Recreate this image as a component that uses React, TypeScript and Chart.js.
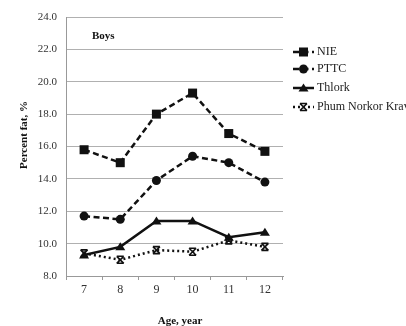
import React, { useEffect, useRef } from "react";
import { Chart, registerables } from "chart.js";

Chart.register(...registerables);

const ages = ["7", "8", "9", "10", "11", "12"];
const nie = [15.8, 15.0, 18.0, 19.3, 16.8, 15.7];
const pttc = [11.7, 11.5, 13.9, 15.4, 15.0, 13.8];
const thlork = [9.3, 9.8, 11.4, 11.4, 10.4, 10.7];
const phum = [9.4, 9.0, 9.6, 9.5, 10.2, 9.8];
const seriesNames = ["NIE", "PTTC", "Thlork", "Phum Norkor Krav"];
const xTitle = "Age, year";
const yTitle = "Percent fat, %";
const panelLabel = "Boys";

const FONT = "'Liberation Serif', 'Times New Roman', serif";
const INK = "#111";

function drawMarker(ctx: CanvasRenderingContext2D, style: string, x: number, y: number) {
  ctx.fillStyle = INK;
  ctx.strokeStyle = INK;
  ctx.setLineDash([]);
  ctx.beginPath();
  if (style === "rect") {
    ctx.fillRect(x - 4.5, y - 4.5, 9, 9);
  } else if (style === "circle") {
    ctx.arc(x, y, 4.5, 0, Math.PI * 2);
    ctx.fill();
  } else if (style === "triangle") {
    ctx.moveTo(x, y - 4.5);
    ctx.lineTo(x + 5, y + 3.5);
    ctx.lineTo(x - 5, y + 3.5);
    ctx.closePath();
    ctx.fill();
  } else {
    ctx.lineWidth = 1.6;
    ctx.moveTo(x - 3.5, y - 3.5);
    ctx.lineTo(x + 3.5, y + 3.5);
    ctx.moveTo(x + 3.5, y - 3.5);
    ctx.lineTo(x - 3.5, y + 3.5);
    ctx.moveTo(x - 3.5, y - 3.5);
    ctx.lineTo(x + 3.5, y - 3.5);
    ctx.moveTo(x - 3.5, y + 3.5);
    ctx.lineTo(x + 3.5, y + 3.5);
    ctx.stroke();
  }
}

const decorPlugin = {
  id: "decor",
  afterDatasetsDraw(chart: any) {
    const ctx = chart.ctx;
    // custom markers on data points
    chart.data.datasets.forEach((ds: any, i: number) => {
      const meta = chart.getDatasetMeta(i);
      meta.data.forEach((pt: any) => {
        ctx.save();
        drawMarker(ctx, ds.markerStyle, pt.x, pt.y);
        ctx.restore();
      });
    });
  },
  afterDraw(chart: any) {
    const ctx = chart.ctx;
    const ys = [52, 69, 88, 107];
    chart.data.datasets.forEach((ds: any, i: number) => {
      const y = ys[i];
      ctx.save();
      ctx.strokeStyle = ds.borderColor;
      ctx.lineWidth = ds.borderWidth;
      ctx.setLineDash(ds.borderDash || []);
      ctx.beginPath();
      ctx.moveTo(293, y);
      ctx.lineTo(314, y);
      ctx.stroke();
      drawMarker(ctx, ds.markerStyle, 303.5, y);
      ctx.restore();
      ctx.save();
      ctx.fillStyle = "#222";
      ctx.font = `12px ${FONT}`;
      ctx.textBaseline = "middle";
      ctx.textAlign = "left";
      ctx.fillText(ds.label, 317, y);
      ctx.restore();
    });
    ctx.save();
    ctx.fillStyle = "#111";
    ctx.font = `bold 11px ${FONT}`;
    ctx.textBaseline = "middle";
    ctx.textAlign = "left";
    ctx.fillText(panelLabel, 92, 36);
    ctx.textAlign = "center";
    ctx.fillText(xTitle, 180, 321);
    ctx.translate(24, 135);
    ctx.rotate(-Math.PI / 2);
    ctx.fillText(yTitle, 0, 0);
    ctx.restore();
  },
};

export default function App() {
  const ref = useRef<HTMLCanvasElement>(null);
  useEffect(() => {
    if (!ref.current) return;
    const chart = new Chart(ref.current, {
      type: "line",
      data: {
        labels: ages,
        datasets: [
          {
            label: seriesNames[0],
            data: nie,
            borderColor: INK,
            borderWidth: 2.5,
            borderDash: [6, 3.5],
            markerStyle: "rect",
            pointRadius: 0,
          },
          {
            label: seriesNames[1],
            data: pttc,
            borderColor: INK,
            borderWidth: 2.5,
            borderDash: [6, 3.5],
            markerStyle: "circle",
            pointRadius: 0,
          },
          {
            label: seriesNames[2],
            data: thlork,
            borderColor: INK,
            borderWidth: 2.5,
            borderDash: [],
            markerStyle: "triangle",
            pointRadius: 0,
          },
          {
            label: seriesNames[3],
            data: phum,
            borderColor: INK,
            borderWidth: 2.5,
            borderDash: [2, 3],
            markerStyle: "cross",
            pointRadius: 0,
          },
        ] as any,
      },
      options: {
        animation: false,
        responsive: false,
        devicePixelRatio: 1,
        layout: { padding: { left: 0, right: 123, top: 17, bottom: 0 } },
        plugins: { legend: { display: false }, tooltip: { enabled: false } },
        scales: {
          x: {
            offset: true,
            grid: {
              offset: true,
              drawOnChartArea: false,
              drawTicks: true,
              tickLength: 4,
              color: "#999",
            },
            border: { color: "#999", width: 1 },
            ticks: {
              color: "#333",
              font: { family: FONT, size: 12 },
              padding: 3,
              maxRotation: 0,
            },
            afterFit: (s: any) => {
              s.height = 50;
            },
          },
          y: {
            min: 8,
            max: 24,
            ticks: {
              stepSize: 2,
              color: "#333",
              font: { family: FONT, size: 11 },
              padding: 9,
              callback: (v: any) => Number(v).toFixed(1),
            },
            grid: { color: "#b0b0b0", drawTicks: false },
            border: { color: "#999", width: 1 },
            afterFit: (s: any) => {
              s.width = 66;
            },
          },
        },
      } as any,
      plugins: [decorPlugin],
    });
    return () => chart.destroy();
  }, []);
  return (
    <div
      style={{
        position: "fixed",
        left: 0,
        top: 0,
        width: 406,
        height: 326,
        background: "#fff",
      }}
    >
      <canvas ref={ref} width={406} height={326} style={{ width: 406, height: 326 }} />
    </div>
  );
}
